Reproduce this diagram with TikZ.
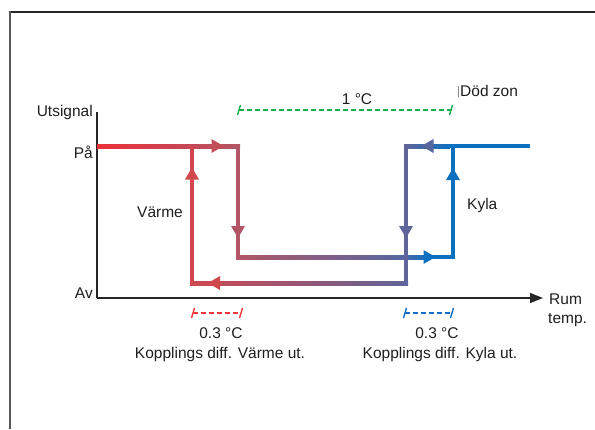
\documentclass[tikz,border=0pt]{standalone}
\usepackage{fontspec}
\setmainfont{Liberation Sans}
\usetikzlibrary{calc,arrows.meta}
\definecolor{cA}{RGB}{234,48,56}
\definecolor{cB}{RGB}{208,72,78}
\definecolor{cC}{RGB}{178,86,102}
\definecolor{cS}{RGB}{88,102,160}
\definecolor{cD}{RGB}{95,100,155}
\definecolor{cE}{RGB}{12,112,192}
\definecolor{txt}{RGB}{30,30,30}
\definecolor{gz}{RGB}{20,175,75}
\definecolor{rz}{RGB}{238,58,62}
\definecolor{bz}{RGB}{20,110,200}
\tikzset{
  lbl/.style={font=\fontsize{15.5}{18}\selectfont, text=txt, inner sep=0pt},
  ah/.pic={\fill (6pt,0) -- (-6pt,7pt) -- (-6pt,-7pt) -- cycle;},
  dz/.style={line width=1.4pt, dash pattern=on 4.5pt off 3.5pt},
  tick/.style={line width=1.4pt},
}
\begin{document}
\begin{tikzpicture}[x=1pt,y=-1pt]
\useasboundingbox (0,0) rectangle (595,429);
% frame
\draw[line width=1.2pt, black!85] (10,12) -- (595,12);
\draw[line width=2pt, black!65] (10,11) -- (10,429);
% axes
\coordinate (O) at (97,298);
\coordinate (Ytop) at (97,112);
\coordinate (Xend) at (543,298);
\draw[line width=1.5pt, black!85] (Ytop) -- (O);
\draw[line width=1.5pt, black!85, -{Triangle[length=13pt,width=10pt]}] (O) -- (Xend);
% corners
\coordinate (s0) at (97,146);
\coordinate (h1) at (238,146);
\coordinate (h2) at (238,257);
\coordinate (k1) at (453,257);
\coordinate (k2) at (453,146);
\coordinate (e1) at (530,146);
\coordinate (c1) at (406,146);
\coordinate (c2) at (406,283);
\coordinate (v1) at (192,283);
\coordinate (v2) at (192,146);
% heating lines
\shade[left color=cA, right color=cC] ($(s0)+(0,-2)$) rectangle ($(h1)+(2,2)$);
\shade[left color=cB, right color=cD] ($(v1)+(-2,-2)$) rectangle ($(c2)+(2,2)$);
\fill[cC] ($(h1)+(-2,0)$) rectangle ($(h2)+(2,2)$);
\fill[cB] ($(v1)+(-2,2)$) rectangle ($(v2)+(2,0)$);
% cooling lines
\shade[left color=cC, right color=cS] ($(h2)+(-2,-2)$) rectangle (400,259);
\shade[left color=cS, right color=cE] (400,255) rectangle (430,259);
\fill[cE] (430,255) rectangle ($(k1)+(2,2)$);
\fill[cE] ($(k1)+(-2,2)$) rectangle ($(k2)+(2,0)$);
\shade[left color=cD, right color=cE] ($(c1)+(-2,-2)$) rectangle (450,148);
\fill[cE] (450,144) rectangle ($(e1)+(0,2)$);
\fill[cD] ($(c1)+(-2,-2)$) rectangle ($(c2)+(2,2)$);
% arrowheads
\pic[fill=cB!60!cC] (a1) at (217.5,146) {ah};
\pic[fill=cC, rotate=-90] (a2) at (238,232) {ah};
\pic[fill=cB, rotate=90] (a3) at (192,173.5) {ah};
\pic[fill=cB, rotate=180] (a4) at (214,283) {ah};
\pic[fill=cD, rotate=-90] (a5) at (406,232) {ah};
\pic[fill=cE] (a6) at (429.5,257) {ah};
\pic[fill=cE, rotate=90] (a7) at (453,174) {ah};
\pic[fill=cS, rotate=180] (a8) at (427.5,146) {ah};
% axis labels
\node[lbl, anchor=east] (ut) at (93,112) {Utsignal};
\node[lbl, anchor=east] (pa) at (93,152) {På};
\node[lbl, anchor=east] (av) at (93,293) {Av};
\node[lbl, anchor=west] (rum) at (549,299) {Rum};
\node[lbl, anchor=west] (temp) at (548,320) {temp.};
\node[lbl, anchor=west] (varme) at (137,212) {Värme};
\node[lbl, anchor=west] (kyla) at (467,205) {Kyla};
% dead zone
\coordinate (g1) at (239,110);
\coordinate (g2) at (451,110);
\draw[gz, dz] (g1) -- (g2);
\draw[gz, tick] ($(g1)+(-1.5,5)$) -- ($(g1)+(1.5,-5)$);
\draw[gz, tick] ($(g2)+(-1.5,5)$) -- ($(g2)+(1.5,-5)$);
\node[lbl] (onec) at (357,99) {1 °C};
\draw[black!45, line width=0.6pt] (458,86) -- (458,97);
\node[lbl, anchor=west] (dod) at (460,91) {Död zon};
% switching differentials
\coordinate (r1) at (193,313);
\coordinate (r2) at (241,313);
\draw[rz, dz] (r1) -- (r2);
\draw[rz, tick] ($(r1)+(-1.5,5)$) -- ($(r1)+(1.5,-5)$);
\draw[rz, tick] ($(r2)+(-1.5,5)$) -- ($(r2)+(1.5,-5)$);
\coordinate (b1) at (405,313);
\coordinate (b2) at (452,313);
\draw[bz, dz] (b1) -- (b2);
\draw[bz, tick] ($(b1)+(-1.5,5)$) -- ($(b1)+(1.5,-5)$);
\draw[bz, tick] ($(b2)+(-1.5,5)$) -- ($(b2)+(1.5,-5)$);
\node[lbl] (t1) at (221,333) {0.3 °C};
\node[lbl] (t2) at (437,333) {0.3 °C};
\node[lbl] (k1t) at (220,354) {Kopplings diff. Värme ut.};
\node[lbl] (k2t) at (440,354) {Kopplings diff. Kyla ut.};
\end{tikzpicture}
\end{document}
